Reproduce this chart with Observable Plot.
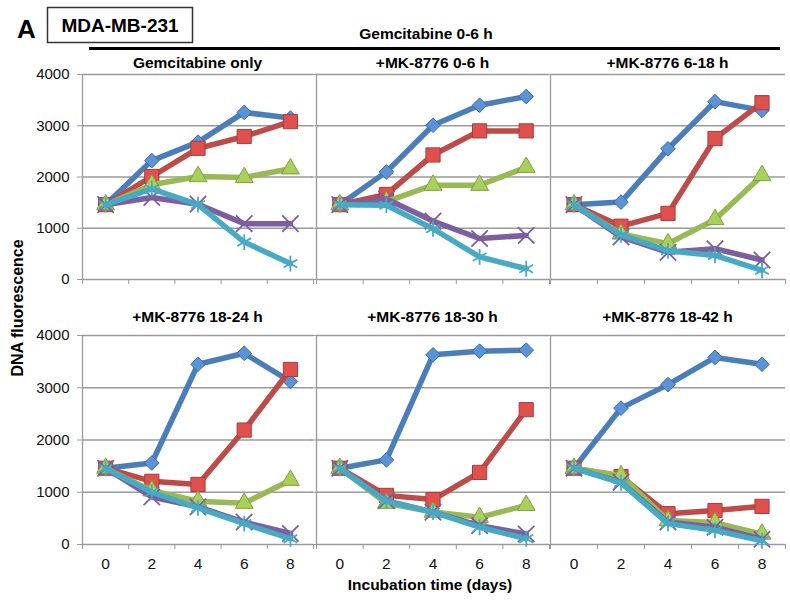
<!DOCTYPE html>
<html><head><meta charset="utf-8">
<script src="https://cdn.jsdelivr.net/npm/d3@7"></script>
<script src="https://cdn.jsdelivr.net/npm/@observablehq/plot@0.6"></script>
<style>
body{margin:0;background:#fff;}
#chart{position:relative;width:790px;height:603px;overflow:hidden;font-family:"Liberation Sans",Arial,sans-serif;background:#fff}
#chart svg{position:absolute;}
#chart .panel g[aria-label$="tick"]{stroke:#9a9a9a;}
#chart .panel .tick line{stroke:#9a9a9a;}
</style></head>
<body><div id="chart"></div>
<script>
// ---- data ----
const days = [0, 2, 4, 6, 8];
const yTicks = [0, 1000, 2000, 3000, 4000];
const xTickMarks = [-1, 1, 3, 5, 7, 9];
const seriesNames = ["Series 1", "Series 2", "Series 3", "Series 4", "Series 5"];
const panelTitles = ["Gemcitabine only", "+MK-8776 0-6 h", "+MK-8776 6-18 h",
                     "+MK-8776 18-24 h", "+MK-8776 18-30 h", "+MK-8776 18-42 h"];
const figureLetter = "A";
const cellLine = "MDA-MB-231";
const headerText = "Gemcitabine 0-6 h";
const yLabel = "DNA fluorescence";
const xLabel = "Incubation time (days)";

const gemcitabineOnly = [
  [1460, 2320, 2680, 3260, 3150],
  [1460, 2010, 2560, 2790, 3080],
  [1460, 1850, 2010, 1990, 2160],
  [1460, 1600, 1470, 1090, 1090],
  [1460, 1770, 1460, 730, 310]
];
const mk0to6 = [
  [1460, 2100, 3010, 3400, 3570],
  [1460, 1660, 2430, 2900, 2900],
  [1460, 1520, 1840, 1840, 2190],
  [1460, 1570, 1140, 800, 860],
  [1460, 1450, 990, 440, 210]
];
const mk6to18 = [
  [1460, 1510, 2550, 3470, 3300],
  [1460, 1040, 1290, 2750, 3450],
  [1460, 890, 700, 1170, 2030],
  [1460, 830, 530, 600, 380],
  [1460, 870, 560, 470, 180]
];
const mk18to24 = [
  [1460, 1560, 3450, 3660, 3120],
  [1460, 1210, 1150, 2190, 3350],
  [1460, 1030, 830, 790, 1230],
  [1460, 910, 720, 430, 210],
  [1460, 1000, 700, 400, 110]
];
const mk18to30 = [
  [1460, 1620, 3630, 3700, 3720],
  [1460, 940, 860, 1380, 2580],
  [1460, 790, 620, 520, 750],
  [1460, 840, 620, 360, 200],
  [1460, 830, 620, 330, 110]
];
const mk18to42 = [
  [1460, 2610, 3060, 3580, 3450],
  [1460, 1300, 590, 650, 730],
  [1460, 1320, 460, 420, 200],
  [1460, 1190, 430, 330, 100],
  [1460, 1180, 400, 270, 70]
];
const panelValues = [gemcitabineOnly, mk0to6, mk6to18, mk18to24, mk18to30, mk18to42];

// ---- styles ----
const lineColors = ["#4A7EBB", "#BE4B48", "#98B954", "#7D5FA0", "#46AAC5"];
const markerFill = ["#5B93D9", "#E0504D", "#A9D05A", "none", "none"];
const markerStroke = ["#3C6AA8", "#A83D3A", "#7FA03E", "#7D5FA0", "#46AAC5"];
const markerSymbol = ["diamond2", "square", "triangle", "times", "asterisk"];
const markerR = [6.6, 8, 6.6, 7.5, 7.5];

const colAxisX = [82, 316, 550];
const colRightX = [313, 549, 785];
const rowTopY = [74, 335];
const rowZeroY = [279, 544];
const titleBaseline = [68, 322];
const gridColor = "#9a9a9a";
const FONT = "'Liberation Sans', Arial, sans-serif";

const chart = document.getElementById("chart");

// ---- overlay text / decorations ----
const ov = d3.select(chart).append("svg").attr("width", 790).attr("height", 603)
  .style("left", "0px").style("top", "0px").attr("font-family", FONT);
ov.append("text").attr("x", 17).attr("y", 38).attr("font-size", 26).attr("font-weight", "bold").text(figureLetter);
ov.append("rect").attr("x", 47.5).attr("y", 7.5).attr("width", 145).attr("height", 35)
  .attr("fill", "none").attr("stroke", "#333").attr("stroke-width", 1.5);
ov.append("text").attr("x", 120).attr("y", 32).attr("text-anchor", "middle").attr("font-size", 19)
  .attr("font-weight", "bold").text(cellLine);
ov.append("text").attr("x", 426).attr("y", 39).attr("text-anchor", "middle").attr("font-size", 15.5)
  .attr("font-weight", "bold").text(headerText);
ov.append("line").attr("x1", 89).attr("x2", 780).attr("y1", 48.5).attr("y2", 48.5)
  .attr("stroke", "#000").attr("stroke-width", 3);
panelTitles.forEach((t, i) => {
  const c = i % 3, r = Math.floor(i / 3);
  ov.append("text").attr("x", (colAxisX[c] + colRightX[c]) / 2).attr("y", titleBaseline[r])
    .attr("text-anchor", "middle").attr("font-size", 15.5).attr("font-weight", "bold").text(t);
});
ov.append("text").attr("transform", "translate(23,308) rotate(-90)").attr("text-anchor", "middle")
  .attr("font-size", 16).attr("font-weight", "bold").text(yLabel);
ov.append("text").attr("x", 430).attr("y", 590).attr("text-anchor", "middle")
  .attr("font-size", 15.5).attr("font-weight", "bold").text(xLabel);

// ---- panels ----
panelValues.forEach((vals, i) => {
  const c = i % 3, r = Math.floor(i / 3);
  const ml = 50, mr = 8, mt = 12, mb = 32;
  const w = colRightX[c] - colAxisX[c] + ml + mr;
  const h = rowZeroY[r] - rowTopY[r] + mt + mb;
  const marks = [
    Plot.ruleY(yTicks.filter(d => d > 0), {stroke: gridColor, strokeWidth: 1.3}),
    Plot.ruleY([0], {stroke: gridColor, strokeWidth: 1.3}),
    Plot.ruleX([-1], {stroke: gridColor, strokeWidth: 1.3})
  ];
  vals.forEach((series, s) => {
    const rows = days.map((d, k) => ({day: d, value: series[k], name: seriesNames[s]}));
    marks.push(Plot.line(rows, {x: "day", y: "value", stroke: lineColors[s], strokeWidth: 5.5,
      strokeLinejoin: "round", strokeLinecap: "round"}));
    const filled = markerFill[s] !== "none";
    marks.push(Plot.dot(rows, {x: "day", y: "value", symbol: () => markerSymbol[s], r: markerR[s],
      fill: filled ? markerFill[s] : "none", stroke: markerStroke[s],
      strokeWidth: filled ? 1 : 1.8}));
  });
  if (r === 1) {
    marks.push(Plot.text(days, {x: d => d, y: 0, text: d => String(d), dy: 20, fontSize: 15.5, fill: "#111"}));
  }
  const svg = Plot.plot({
    width: w, height: h,
    marginLeft: ml, marginRight: mr, marginTop: mt, marginBottom: mb,
    x: {domain: [-1, 9], ticks: xTickMarks, tickSize: 5, tickFormat: () => "", label: null},
    y: {domain: [0, 4000], ticks: yTicks, tickSize: 5, tickPadding: 8, label: null,
        tickFormat: c === 0 ? (d => String(d)) : (() => "")},
    symbol: {type: "identity"},
    style: {background: "transparent", fontFamily: FONT, fontSize: "15px", color: "#111", overflow: "visible"},
    marks
  });
  svg.classList.add("panel");
  svg.style.left = (colAxisX[c] - ml) + "px";
  svg.style.top = (rowTopY[r] - mt) + "px";
  svg.style.position = "absolute";
  chart.appendChild(svg);
});
</script>
</body></html>
